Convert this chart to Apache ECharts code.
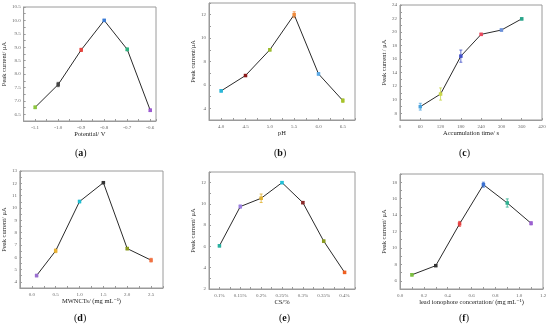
<!DOCTYPE html>
<html><head><meta charset="utf-8">
<script src="https://cdn.jsdelivr.net/npm/echarts@6/dist/echarts.min.js"></script>
<style>html,body{margin:0;padding:0;background:#fff}#c{width:550px;height:329px}</style>
</head><body><div id="c"></div>
<script>
// ---- data ----
var aX = [-1.1, -1.0, -0.9, -0.8, -0.7, -0.6];
var aY = [6.76, 7.61, 8.9, 10.0, 8.92, 6.65];
var aErr = [0.05, 0.08, 0.06, 0.04, 0.05, 0.05];

var bX = [4.0, 4.5, 5.0, 5.5, 6.0, 6.5];
var bY = [5.49, 6.8, 9.0, 12.0, 6.94, 4.66];
var bErr = [0.1, 0.05, 0.1, 0.25, 0.1, 0.15];

var cX = [60, 120, 180, 240, 300, 360];
var cY = [8.97, 10.84, 16.44, 19.66, 20.3, 21.95];
var cErr = [0.5, 0.9, 0.9, 0.15, 0.15, 0.15];

var dX = [0.1, 0.5, 1.0, 1.5, 2.0, 2.5];
var dY = [4.51, 6.52, 10.52, 12.05, 6.7, 5.76];
var dErr = [0.1, 0.15, 0.1, 0.05, 0.1, 0.15];

var eX = [0.1, 0.15, 0.2, 0.25, 0.3, 0.35, 0.4];
var eY = [6.06, 9.75, 10.53, 12.0, 10.12, 6.5, 3.56];
var eErr = [0.1, 0.15, 0.4, 0.1, 0.1, 0.1, 0.1];

var fX = [0.1, 0.3, 0.5, 0.7, 0.9, 1.1];
var fY = [6.73, 7.84, 12.93, 17.7, 15.47, 13.0];
var fErr = [0.15, 0.1, 0.3, 0.3, 0.5, 0.2];

var xNames = ['Potential/ V', 'pH', 'Accumulation time/ s', 'MWNCTs/ (mg mL\u207B\u00B9)', 'CS/%', 'lead ionophore concertation/ (mg mL\u207B\u00B9)'];
var yNames = ['Peak current/ \u03BCA', 'Peak current/\u03BCA', 'Peak current / \u03BCA', 'Peak current/ \u03BCA', 'Peak current/ \u03BCA', 'Peak current/ \u03BCA'];
var captions = ['a', 'b', 'c', 'd', 'e', 'f'];

var colorsA = ['#8dc63f', '#444444', '#e8433c', '#3a7bd5', '#2db37e', '#9b59d0'];
var colorsB = ['#29b6d8', '#8b1a1a', '#9aba2c', '#f08a3c', '#5aa9e6', '#a6c22a'];
var colorsC = ['#4aa3df', '#c8d64a', '#3f4fc8', '#e84a5f', '#6a8fd8', '#2aa58a'];
var colorsD = ['#9b6fd0', '#e8b030', '#1fbcd0', '#333333', '#8a9a20', '#f07040'];
var colorsE = ['#2ab0a0', '#9b7fe0', '#e0b030', '#20c0d8', '#8b2a2a', '#8a9a20', '#f06020'];
var colorsF = ['#7cc040', '#333333', '#e84040', '#3a70d0', '#30b090', '#9b60d0'];

// ---- layout ----
var grids = [
  {left: 22, top: 7, width: 134, height: 114},
  {left: 209, top: 3, width: 146, height: 117},
  {left: 400, top: 5, width: 142, height: 115},
  {left: 17, top: 171, width: 146, height: 117},
  {left: 209, top: 172, width: 146, height: 117},
  {left: 400, top: 174, width: 143, height: 115}
];
function isMult(v, step) { var r = v / step; return Math.abs(r - Math.round(r)) < 1e-6; }
var xCfg = [
  {min: -1.15, max: -0.575, interval: 0.05, fmt: function (v) { return isMult(v, 0.1) ? v.toFixed(1) : ''; }},
  {min: 3.75, max: 6.75, interval: 0.25, fmt: function (v) { return isMult(v, 0.5) ? v.toFixed(1) : ''; }},
  {min: 0, max: 420, interval: 60, fmt: function (v) { return String(Math.round(v)); }},
  {min: -0.25, max: 2.75, interval: 0.25, fmt: function (v) { return isMult(v, 0.5) ? v.toFixed(1) : ''; }},
  {min: 0.075, max: 0.425, interval: 0.025, fmt: function (v) { return isMult(v, 0.05) ? String(+v.toFixed(2)) + '%' : ''; }},
  {min: 0, max: 1.2, interval: 0.1, fmt: function (v) { return isMult(v, 0.2) ? v.toFixed(1) : ''; }}
];
var yCfg = [
  {min: 6.25, max: 10.5, interval: 0.25, fmt: function (v) { return isMult(v, 0.5) ? v.toFixed(1) : ''; }, gap: 14},
  {min: 3, max: 13, interval: 1, fmt: function (v) { return isMult(v, 2) ? String(Math.round(v)) : ''; }, gap: 10},
  {min: 7, max: 24, interval: 1, fmt: function (v) { return isMult(v, 2) ? String(Math.round(v)) : ''; }, gap: 10},
  {min: 3.5, max: 13, interval: 0.5, fmt: function (v) { return isMult(v, 1) ? String(Math.round(v)) : ''; }, gap: 8},
  {min: 2, max: 13, interval: 1, fmt: function (v) { return isMult(v, 2) ? String(Math.round(v)) : ''; }, gap: 10},
  {min: 5, max: 19, interval: 1, fmt: function (v) { return isMult(v, 2) ? String(Math.round(v)) : ''; }, gap: 10}
];
var allX = [aX, bX, cX, dX, eX, fX];
var allY = [aY, bY, cY, dY, eY, fY];
var allErr = [aErr, bErr, cErr, dErr, eErr, fErr];
var allCol = [colorsA, colorsB, colorsC, colorsD, colorsE, colorsF];

var FONT = '"Liberation Serif", "DejaVu Serif", serif';
var gridOpts = [], xAxes = [], yAxes = [], series = [], graphics = [];
var capPos = [[83, 154], [282, 154], [467, 154], [82, 319], [287, 319], [467, 319]];

for (var i = 0; i < 6; i++) {
  var g = grids[i];
  gridOpts.push({left: g.left, top: g.top, width: g.width, height: g.height, show: true,
    borderColor: '#9a9a9a', borderWidth: 1, backgroundColor: 'transparent', containLabel: false});
  xAxes.push({type: 'value', gridIndex: i, min: xCfg[i].min, max: xCfg[i].max, interval: xCfg[i].interval,
    name: xNames[i], nameLocation: 'middle', nameGap: 10,
    nameTextStyle: {fontFamily: FONT, fontSize: 6.5, color: '#222'},
    axisLine: {onZero: false, lineStyle: {color: '#9a9a9a', width: 1}},
    axisTick: {inside: true, length: 2, lineStyle: {color: '#9a9a9a'}},
    axisLabel: {formatter: xCfg[i].fmt, fontFamily: FONT, fontSize: 5, color: '#666', margin: 4, showMinLabel: true, showMaxLabel: true},
    splitLine: {show: false}});
  yAxes.push({type: 'value', gridIndex: i, min: yCfg[i].min, max: yCfg[i].max, interval: yCfg[i].interval,
    name: yNames[i], nameLocation: 'middle', nameGap: yCfg[i].gap,
    nameTextStyle: {fontFamily: FONT, fontSize: 6.5, color: '#222'},
    axisLine: {show: true, onZero: false, lineStyle: {color: '#9a9a9a', width: 1}},
    axisTick: {inside: true, length: 2, lineStyle: {color: '#9a9a9a'}},
    axisLabel: {formatter: yCfg[i].fmt, fontFamily: FONT, fontSize: 5, color: '#666', margin: 3, showMinLabel: true, showMaxLabel: true},
    splitLine: {show: false}});

  var cols = allCol[i];
  var lineData = allX[i].map(function (x, k) {
    return {value: [x, allY[i][k]], itemStyle: {color: cols[k], borderWidth: 0}};
  });
  series.push({type: 'line', xAxisIndex: i, yAxisIndex: i, data: lineData,
    symbol: 'rect', symbolSize: 3.5, lineStyle: {color: '#2a2a2a', width: 1},
    itemStyle: {color: '#2a2a2a'}, z: 3, silent: true, animation: false});

  var errData = allX[i].map(function (x, k) {
    return [x, allY[i][k], allY[i][k] - allErr[i][k], allY[i][k] + allErr[i][k], k];
  });
  (function (cols) {
    series.push({type: 'custom', xAxisIndex: i, yAxisIndex: i, data: errData, z: 2, silent: true, animation: false,
      renderItem: function (params, api) {
        var x = api.value(0), lo = api.value(2), hi = api.value(3), k = api.value(4);
        var p1 = api.coord([x, hi]), p2 = api.coord([x, lo]);
        var c = cols[k];
        var st = {stroke: c, lineWidth: 0.8};
        return {type: 'group', children: [
          {type: 'line', shape: {x1: p1[0], y1: p1[1], x2: p2[0], y2: p2[1]}, style: st},
          {type: 'line', shape: {x1: p1[0] - 1.5, y1: p1[1], x2: p1[0] + 1.5, y2: p1[1]}, style: st},
          {type: 'line', shape: {x1: p2[0] - 1.5, y1: p2[1], x2: p2[0] + 1.5, y2: p2[1]}, style: st}
        ]};
      },
      encode: {x: 0, y: [1, 2, 3]}});
  })(cols);

  graphics.push({type: 'text', left: capPos[i][0] - 8, top: capPos[i][1] - 6,
    style: {text: '(' + '{b|' + captions[i] + '})', rich: {b: {fontWeight: 'bold', fontFamily: FONT, fontSize: 10, fill: '#111'}},
      fontFamily: FONT, fontSize: 10, fill: '#111'}});
}

var chart = echarts.init(document.getElementById('c'), null, {renderer: 'canvas'});
chart.setOption({
  animation: false,
  textStyle: {fontFamily: FONT},
  grid: gridOpts, xAxis: xAxes, yAxis: yAxes, series: series, graphic: graphics
});
</script>
</body></html>
